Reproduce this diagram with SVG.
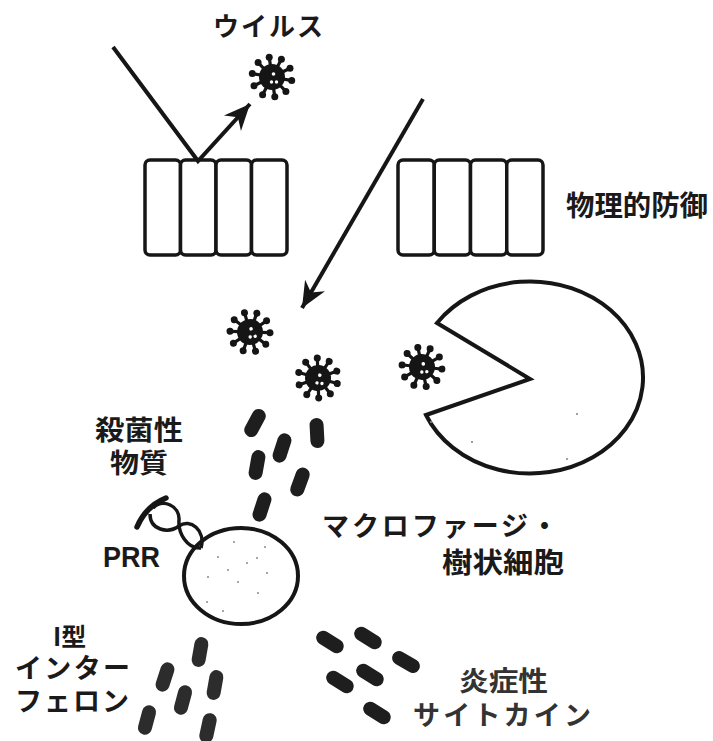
<svg xmlns="http://www.w3.org/2000/svg" xmlns:xlink="http://www.w3.org/1999/xlink" width="713" height="741" viewBox="0 0 713 741">
  <style>
    .lbl { font-family: "Noto Sans CJK JP", "Noto Sans CJK SC", sans-serif; font-weight: 700; fill: #1a1a1a; }
    .lat { font-family: "Liberation Sans", Arial, sans-serif; font-weight: 700; fill: #1a1a1a; }
    .wall rect { fill: #fff; stroke: #161616; stroke-width: 3.5; }
    .outline { fill: #fff; stroke: #161616; stroke-width: 4; }
    .speck { fill: #8a8a8a; }
    .line { fill: none; stroke: #161616; stroke-width: 4; stroke-linejoin: miter; }
    .pill { fill: #1e1e1e; }
    .pill-soft { fill: #2c2c2c; }
    .strand { fill: none; stroke: #161616; stroke-width: 3.5; }
  </style>
  <defs>
    <marker id="head" markerUnits="userSpaceOnUse" viewBox="-28 -13 30 26" refX="0" refY="0" markerWidth="30" markerHeight="26" orient="auto">
      <path d="M0 0 L-26 -11.5 L-18 0 L-26 11.5 Z" fill="#161616"/>
    </marker>
    <g id="virus">
      <path d="M0 0L18.7 3.3M0 0L13.2 13.7M0 0L2.6 18.8M0 0L-8.9 16.8M0 0L-17.1 8.3M0 0L-18.7 -3.3M0 0L-13.2 -13.7M0 0L-2.6 -18.8M0 0L8.9 -16.8M0 0L17.1 -8.3" stroke="#151515" stroke-width="3.2" stroke-linecap="round"/>
      <circle r="13" fill="#151515"/>
      <g fill="#151515">
        <circle cx="19.7" cy="3.5" r="3.5"/>
        <circle cx="13.9" cy="14.4" r="3.5"/>
        <circle cx="2.8" cy="19.8" r="3.5"/>
        <circle cx="-9.4" cy="17.7" r="3.5"/>
        <circle cx="-18" cy="8.8" r="3.5"/>
        <circle cx="-19.7" cy="-3.5" r="3.5"/>
        <circle cx="-13.9" cy="-14.4" r="3.5"/>
        <circle cx="-2.8" cy="-19.8" r="3.5"/>
        <circle cx="9.4" cy="-17.7" r="3.5"/>
        <circle cx="18" cy="-8.8" r="3.5"/>
      </g>
      <g fill="#fff">
        <circle cx="1.5" cy="-3" r="1.8"/>
        <circle cx="-0.5" cy="5" r="1.7"/>
        <circle cx="4.5" cy="5" r="1.7"/>
      </g>
    </g>
    <rect id="capsule" x="-7" y="-15" width="14" height="30" rx="7"/>
  </defs>

  <!-- epithelial barriers -->
  <g id="barrier-left" class="wall">
    <rect x="145" y="160" width="35.5" height="95" rx="5"/>
    <rect x="180.5" y="160" width="35.5" height="95" rx="5"/>
    <rect x="216" y="160" width="35.5" height="95" rx="5"/>
    <rect x="251.5" y="160" width="35.5" height="95" rx="5"/>
  </g>
  <g id="barrier-right" class="wall">
    <rect x="398" y="160" width="36.25" height="95" rx="5"/>
    <rect x="434.25" y="160" width="36.25" height="95" rx="5"/>
    <rect x="470.5" y="160" width="36.25" height="95" rx="5"/>
    <rect x="506.75" y="160" width="36.25" height="95" rx="5"/>
  </g>

  <!-- viruses -->
  <g id="virus-top"><use xlink:href="#virus" transform="translate(272 77)"/></g>
  <g id="virus-a"><use xlink:href="#virus" transform="translate(250 332) rotate(-8)"/></g>
  <g id="virus-b"><use xlink:href="#virus" transform="translate(318 378) rotate(6)"/></g>
  <g id="virus-c"><use xlink:href="#virus" transform="translate(422 367) rotate(-4)"/></g>

  <!-- phagocyte engulfing a virus -->
  <g id="phagocyte">
    <path class="outline" d="M437 323 L530 379 L426 415 A113 96 0 1 0 437 323 Z"/>
    <circle class="speck" cx="577" cy="414" r="1.1"/>
    <circle class="speck" cx="472" cy="442" r="1.1"/>
    <circle class="speck" cx="567" cy="459" r="1.1"/>
    <circle class="speck" cx="431" cy="422" r="1.1"/>
  </g>

  <!-- bactericidal substances -->
  <g id="bactericidal" class="pill">
    <use xlink:href="#capsule" transform="translate(255 423) rotate(28)"/>
    <use xlink:href="#capsule" transform="translate(317 433) rotate(-3)"/>
    <use xlink:href="#capsule" transform="translate(282 448) rotate(18)"/>
    <use xlink:href="#capsule" transform="translate(257 465) rotate(10)"/>
    <use xlink:href="#capsule" transform="translate(300 482) rotate(20)"/>
    <use xlink:href="#capsule" transform="translate(262 507) rotate(18)"/>
  </g>

  <!-- macrophage / dendritic cell with PRR -->
  <g id="dendritic-cell">
    <ellipse class="outline" cx="241" cy="576" rx="57" ry="48"/>
    <g class="speck">
      <circle cx="234" cy="542" r="1"/>
      <circle cx="265" cy="547" r="1"/>
      <circle cx="218" cy="557" r="1"/>
      <circle cx="247" cy="563" r="1"/>
      <circle cx="257" cy="558" r="1"/>
      <circle cx="228" cy="570" r="1"/>
      <circle cx="267" cy="573" r="1"/>
      <circle cx="208" cy="577" r="1"/>
      <circle cx="238" cy="582" r="1"/>
      <circle cx="258" cy="593" r="1"/>
      <circle cx="207" cy="602" r="1"/>
      <circle cx="223" cy="611" r="1"/>
    </g>
  </g>
  <g id="prr">
    <path class="strand" d="M153 508 C163 498 180 506 179 520 C178 533 187 549 201 548"/>
    <path class="strand" d="M150 514 C150 530 168 534 179 526 C190 518 206 530 201 548"/>
    <path d="M137 527 Q146 506 166 498" fill="none" stroke="#161616" stroke-width="5.5" stroke-linecap="round"/>
  </g>

  <!-- type I interferon -->
  <g id="interferon" class="pill-soft">
    <use xlink:href="#capsule" transform="translate(200 652) rotate(10)"/>
    <use xlink:href="#capsule" transform="translate(165 677) rotate(18)"/>
    <use xlink:href="#capsule" transform="translate(215 685) rotate(10)"/>
    <use xlink:href="#capsule" transform="translate(183 700) rotate(15)"/>
    <use xlink:href="#capsule" transform="translate(147 720) rotate(15)"/>
    <use xlink:href="#capsule" transform="translate(208 728) rotate(12)"/>
  </g>

  <!-- inflammatory cytokines -->
  <g id="cytokines" class="pill">
    <use xlink:href="#capsule" transform="translate(330 642) rotate(-58)"/>
    <use xlink:href="#capsule" transform="translate(368 638) rotate(-58)"/>
    <use xlink:href="#capsule" transform="translate(406 662) rotate(-60)"/>
    <use xlink:href="#capsule" transform="translate(340 682) rotate(-58)"/>
    <use xlink:href="#capsule" transform="translate(370 675) rotate(-58)"/>
    <use xlink:href="#capsule" transform="translate(377 713) rotate(-58)"/>
  </g>

  <!-- connectors -->
  <g id="connectors">
    <path class="line" d="M113 47 L198 161 L250 104" marker-end="url(#head)"/>
    <path class="line" d="M423 99 L302 308" marker-end="url(#head)"/>
  </g>

  <!-- labels -->
  <g id="labels">
    <text class="lbl" x="213" y="36" font-size="26" textLength="110" lengthAdjust="spacing">ウイルス</text>
    <text class="lbl" x="566" y="216" font-size="28" textLength="142" lengthAdjust="spacingAndGlyphs">物理的防御</text>
    <text class="lbl" font-size="27"><tspan x="95" y="440" textLength="88" lengthAdjust="spacingAndGlyphs">殺菌性</tspan><tspan x="110" y="473" textLength="58" lengthAdjust="spacingAndGlyphs">物質</tspan></text>
    <text class="lat" x="103" y="567" font-size="30" textLength="57" lengthAdjust="spacingAndGlyphs">PRR</text>
    <text class="lbl" font-size="27"><tspan x="322" y="536" textLength="236" lengthAdjust="spacing">マクロファージ・</tspan><tspan x="442" y="573" font-size="28" textLength="122" lengthAdjust="spacingAndGlyphs">樹状細胞</tspan></text>
    <text class="lbl" font-size="27"><tspan x="53" y="646" font-size="25">I型</tspan><tspan x="15" y="678" textLength="115" lengthAdjust="spacing">インター</tspan><tspan x="15" y="711" textLength="114" lengthAdjust="spacing">フェロン</tspan></text>
    <text class="lbl" font-size="27" style="fill:#333"><tspan x="459" y="691" textLength="89" lengthAdjust="spacingAndGlyphs">炎症性</tspan><tspan x="413" y="725" textLength="178" lengthAdjust="spacing">サイトカイン</tspan></text>
  </g>
</svg>
